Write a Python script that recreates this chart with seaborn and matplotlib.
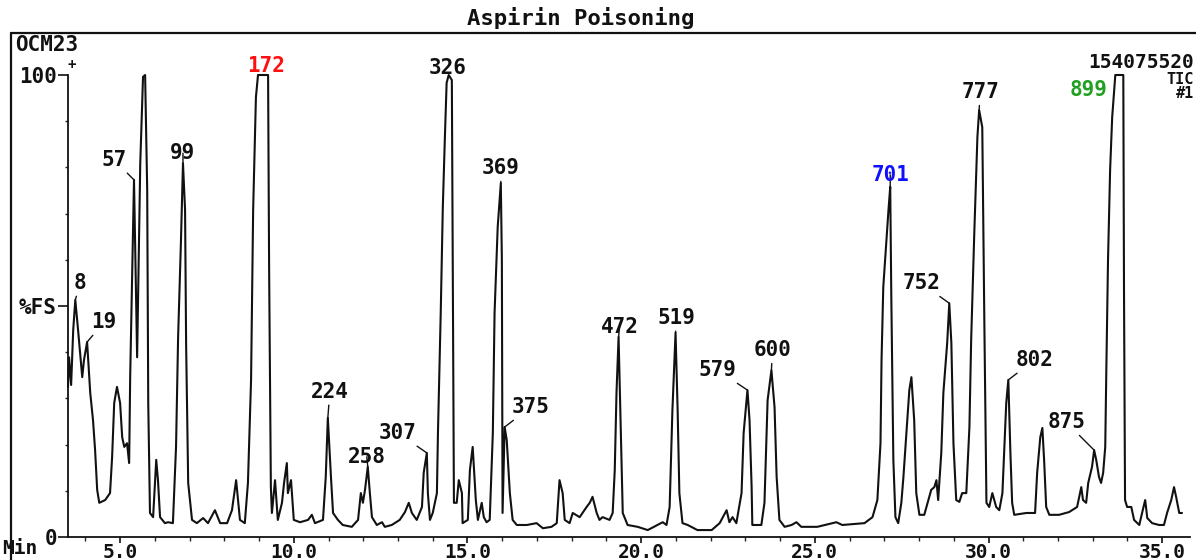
import matplotlib
matplotlib.use("Agg")
import matplotlib.pyplot as plt
from matplotlib.lines import Line2D
import seaborn as sns

# Total ion chromatogram (time in min, intensity in %FS)
times = [
    3.50, 3.53, 3.59, 3.65, 3.71, 3.79, 3.91, 3.96, 4.05, 4.14,
    4.22, 4.28, 4.34, 4.40, 4.57, 4.71, 4.77, 4.83, 4.91, 5.00,
    5.06, 5.12, 5.20, 5.26, 5.29, 5.35, 5.40, 5.49, 5.58, 5.66,
    5.72, 5.78, 5.81, 5.86, 5.95, 6.04, 6.09, 6.15, 6.29, 6.38,
    6.52, 6.61, 6.67, 6.75, 6.81, 6.87, 6.90, 6.96, 7.07, 7.21,
    7.39, 7.53, 7.73, 7.88, 8.08, 8.22, 8.34, 8.45, 8.59, 8.68,
    8.77, 8.83, 8.91, 8.97, 9.26, 9.29, 9.34, 9.37, 9.46, 9.54,
    9.66, 9.72, 9.80, 9.83, 9.92, 10.00, 10.18, 10.41, 10.52, 10.61,
    10.84, 10.92, 10.98, 11.07, 11.13, 11.27, 11.41, 11.67, 11.85, 11.93,
    11.99, 12.05, 12.13, 12.19, 12.25, 12.39, 12.54, 12.62, 12.82, 13.05,
    13.20, 13.31, 13.40, 13.54, 13.69, 13.74, 13.83, 13.86, 13.92, 14.00,
    14.12, 14.15, 14.23, 14.29, 14.35, 14.40, 14.46, 14.55, 14.58, 14.61,
    14.69, 14.75, 14.84, 14.86, 15.01, 15.07, 15.15, 15.24, 15.30, 15.41,
    15.47, 15.55, 15.64, 15.73, 15.78, 15.87, 15.96, 15.99, 16.01, 16.07,
    16.13, 16.22, 16.30, 16.42, 16.71, 16.99, 17.17, 17.42, 17.57, 17.65,
    17.74, 17.80, 17.94, 18.03, 18.23, 18.43, 18.52, 18.60, 18.72, 18.80,
    18.89, 19.09, 19.18, 19.24, 19.29, 19.35, 19.41, 19.47, 19.61, 19.90,
    20.19, 20.47, 20.62, 20.73, 20.82, 20.90, 20.99, 21.05, 21.10, 21.19,
    21.34, 21.62, 22.03, 22.26, 22.46, 22.54, 22.63, 22.74, 22.89, 22.95,
    23.06, 23.12, 23.18, 23.20, 23.46, 23.55, 23.64, 23.75, 23.84, 23.90,
    23.98, 24.13, 24.33, 24.47, 24.61, 25.07, 25.62, 25.79, 26.43, 26.66,
    26.80, 26.89, 26.92, 26.97, 27.06, 27.12, 27.17, 27.20, 27.26, 27.32,
    27.40, 27.49, 27.55, 27.66, 27.72, 27.78, 27.86, 27.92, 28.01, 28.15,
    28.27, 28.35, 28.44, 28.50, 28.55, 28.64, 28.70, 28.81, 28.87, 28.93,
    28.99, 29.07, 29.16, 29.24, 29.36, 29.45, 29.50, 29.59, 29.68, 29.73,
    29.82, 29.88, 29.94, 30.02, 30.11, 30.22, 30.31, 30.40, 30.45, 30.51,
    30.57, 30.63, 30.68, 30.74, 31.09, 31.34, 31.40, 31.49, 31.55, 31.60,
    31.66, 31.75, 32.03, 32.32, 32.55, 32.67, 32.72, 32.81, 32.87, 32.98,
    33.04, 33.10, 33.18, 33.24, 33.30, 33.36, 33.39, 33.44, 33.50, 33.56,
    33.65, 33.88, 33.90, 33.93, 33.99, 34.11, 34.19, 34.34, 34.42, 34.51,
    34.57, 34.71, 34.91, 35.05, 35.14, 35.26, 35.34, 35.40, 35.49, 35.57,
]
intensity = [
    32.5, 38.9, 32.9, 44.8, 51.3, 44.8, 34.6, 38.3, 42.2, 31.2,
    25.3, 18.8, 10.2, 7.4, 8.0, 9.5, 17.3, 29.0, 32.5, 29.0,
    21.6, 19.5, 20.3, 16.0, 34.6, 57.8, 77.3, 38.9, 80.9, 99.6,
    100.0, 75.1, 29.0, 5.2, 4.3, 16.7, 12.3, 4.3, 3.0, 3.2,
    3.0, 19.5, 43.3, 63.6, 80.9, 70.8, 42.0, 11.7, 3.7, 3.0,
    4.1, 3.0, 5.8, 3.0, 3.0, 5.8, 12.3, 3.7, 3.0, 11.7,
    34.0, 70.8, 95.2, 100.0, 100.0, 57.8, 10.8, 5.2, 12.3, 3.7,
    7.4, 11.7, 16.0, 9.5, 12.3, 3.7, 3.2, 3.7, 4.8, 3.0,
    3.7, 13.0, 25.8, 13.0, 5.2, 3.7, 2.6, 2.2, 3.7, 9.5,
    7.4, 10.2, 15.2, 9.5, 4.3, 2.6, 3.2, 2.2, 2.6, 3.7,
    5.4, 7.4, 5.2, 3.7, 6.5, 13.9, 18.2, 9.5, 3.7, 5.2,
    9.5, 22.5, 48.5, 71.4, 86.6, 98.3, 100.0, 98.9, 54.1, 7.4,
    7.4, 12.3, 9.5, 3.0, 3.7, 14.5, 19.5, 8.0, 3.7, 7.4,
    4.3, 3.2, 3.7, 22.5, 48.5, 67.1, 76.6, 60.0, 5.2, 23.8,
    21.0, 9.5, 3.7, 2.6, 2.6, 3.0, 1.9, 2.2, 3.0, 12.3,
    9.5, 3.7, 3.0, 5.2, 4.3, 6.5, 7.4, 8.7, 5.2, 3.7,
    4.3, 3.7, 5.2, 14.5, 31.2, 43.3, 24.7, 5.2, 2.6, 2.2,
    1.5, 2.6, 3.2, 2.6, 6.5, 27.5, 44.2, 27.5, 9.5, 3.0,
    2.6, 1.5, 1.5, 3.0, 5.8, 3.2, 4.3, 3.0, 9.5, 22.5,
    31.8, 25.3, 10.8, 2.6, 2.6, 7.4, 29.6, 36.1, 28.1, 13.0,
    3.7, 2.2, 2.6, 3.2, 2.2, 2.2, 3.2, 2.6, 3.0, 4.3,
    8.0, 20.3, 38.3, 54.1, 64.3, 70.8, 75.8, 52.8, 16.7, 4.3,
    3.0, 7.4, 13.0, 25.3, 31.8, 34.6, 25.3, 9.5, 4.8, 4.8,
    8.0, 10.2, 10.8, 12.3, 8.0, 18.2, 31.2, 42.0, 50.6, 42.0,
    20.3, 8.0, 7.6, 9.5, 9.5, 23.8, 42.6, 65.8, 86.6, 92.4,
    88.7, 46.3, 7.4, 6.5, 9.5, 6.5, 5.8, 9.5, 18.2, 29.0,
    34.0, 18.2, 7.4, 4.8, 5.2, 5.2, 13.9, 21.6, 23.6, 16.7,
    6.5, 4.8, 4.8, 5.4, 6.5, 10.8, 8.0, 7.4, 11.7, 15.2,
    18.8, 16.7, 13.0, 11.7, 13.9, 19.5, 35.5, 60.0, 79.4, 90.9,
    100.0, 100.0, 53.5, 8.0, 6.5, 6.5, 3.7, 2.6, 5.2, 8.0,
    4.1, 3.0, 2.6, 2.6, 5.2, 8.0, 10.8, 8.7, 5.2, 5.2,
]

# Labelled peaks (scan numbers) and where their apex sits
peak_scans = ["8", "19", "57", "99", "172", "224", "258", "307", "326", "369", "375",
              "472", "519", "579", "600", "701", "752", "777", "802", "875", "899"]
peak_times = [3.71, 4.05, 5.40, 6.81, 9.11, 10.98, 12.13, 13.83, 14.46, 15.96, 16.07,
              19.35, 20.99, 23.06, 23.75, 27.17, 28.87, 29.73, 30.57, 33.04, 33.76]
peak_heights = [51.3, 42.2, 77.3, 80.9, 100.0, 25.8, 15.2, 18.2, 100.0, 76.6, 23.8,
                43.3, 44.2, 31.8, 36.1, 75.8, 50.6, 92.4, 34.0, 18.8, 100.0]

x_major = [5, 10, 15, 20, 25, 30, 35]
x_labels = ["5.0", "10.0", "15.0", "20.0", "25.0", "30.0", "35.0"]
x_minor = list(range(4, 36))
y_major = [0, 50, 100]
y_labels = ["0", "%FS", "100"]
y_minor = list(range(10, 100, 10))

# label offsets from apex in pixels (right, up) and colours
label_dx = [5, 17, -20, 0, 3, 2, -1, -29, -1, 0, 26, 1, 1, -30, 1, 0, -28, 1, 26, -28, -31]
label_dy = [17, 20, 20, 10, 9, 26, 10, 20, 7, 15, 20, 10, 15, 20, 20, 12, 20, 18, 20, 28, -15]
label_colors = {"172": "#ff1010", "701": "#1010ff", "899": "#22a022"}
no_leader = {"172", "326", "899"}

W, H, DPI = 1196, 560, 100

sns.set_theme(style="white")
plt.rcParams['font.family'] = ['DejaVu Sans Mono', 'DejaVu Sans']
plt.rcParams['font.weight'] = 'bold'
FS = 15
INK = "#111111"

fig = plt.figure(figsize=(W / DPI, H / DPI), dpi=DPI)
fig.patch.set_facecolor("white")
ax = fig.add_axes([68 / W, (H - 537) / H, (1190 - 68) / W, (537 - 75) / H])
ax.set_facecolor("none")

sns.lineplot(x=times, y=intensity, ax=ax, color=INK, linewidth=1.5,
             estimator=None, sort=False, clip_on=False)

ax.set_xlim(3.5, 35.8)
ax.set_ylim(0, 100)
for s in ["top", "right"]:
    ax.spines[s].set_visible(False)
for s in ["left", "bottom"]:
    ax.spines[s].set_color(INK)
    ax.spines[s].set_linewidth(1.3)

ax.set_xticks(x_major, labels=x_labels)
ax.set_xticks(x_minor, minor=True)
ax.set_yticks(y_major, labels=y_labels)
ax.set_yticks(y_minor, minor=True)
ax.tick_params(axis="x", which="major", direction="out", length=4, width=1.2,
               pad=0, labelsize=FS - 1, colors=INK, bottom=True)
ax.tick_params(axis="x", which="minor", direction="out", length=3, width=1.0, bottom=True)
ax.tick_params(axis="y", which="major", direction="out", length=7, width=1.2,
               pad=1, labelsize=FS, colors=INK, left=True)
ax.tick_params(axis="y", which="minor", direction="out", length=2, width=1.0, left=True)
ax.set_xlabel("")
ax.set_ylabel("")

px2pt = 72 / DPI
for name, t, h, dx, dy in zip(peak_scans, peak_times, peak_heights, label_dx, label_dy):
    kw = {}
    if name not in no_leader:
        kw["arrowprops"] = dict(arrowstyle="-", color=INK, lw=1.0,
                                shrinkA=0, shrinkB=0)
    ax.annotate(name, xy=(t, h), xytext=(dx * px2pt, dy * px2pt),
                textcoords="offset points", ha="center", va="center",
                fontsize=FS, fontweight="bold",
                color=label_colors.get(name, INK),
                annotation_clip=False, **kw)

# instrument frame and header texts
fig.add_artist(Line2D([11 / W, 1.0], [1 - 33 / H, 1 - 33 / H], color=INK, lw=1.6))
fig.add_artist(Line2D([11 / W, 11 / W], [0, 1 - 33 / H], color=INK, lw=1.6))

fig.text(581 / W, 1 - 18 / H, "Aspirin Poisoning", ha="center", va="center",
         fontsize=16, fontweight="bold", color=INK)
fig.text(15 / W, 1 - 45 / H, "OCM23", ha="left", va="center", fontsize=FS,
         fontweight="bold", color=INK)
fig.text(72 / W, 1 - 65 / H, "+", ha="center", va="center", fontsize=10,
         fontweight="bold", color=INK)
fig.text(1194 / W, 1 - 63 / H, "154075520", ha="right", va="center", fontsize=FS - 1,
         fontweight="bold", color=INK)
fig.text(1194 / W, 1 - 80 / H, "TIC", ha="right", va="center", fontsize=11,
         fontweight="bold", color=INK)
fig.text(1194 / W, 1 - 93 / H, "#1", ha="right", va="center", fontsize=11,
         fontweight="bold", color=INK)
fig.text(2 / W, 1 - 549 / H, "Min", ha="left", va="center", fontsize=FS - 1,
         fontweight="bold", color=INK)

fig.savefig("out.png", dpi=DPI, facecolor="white")
